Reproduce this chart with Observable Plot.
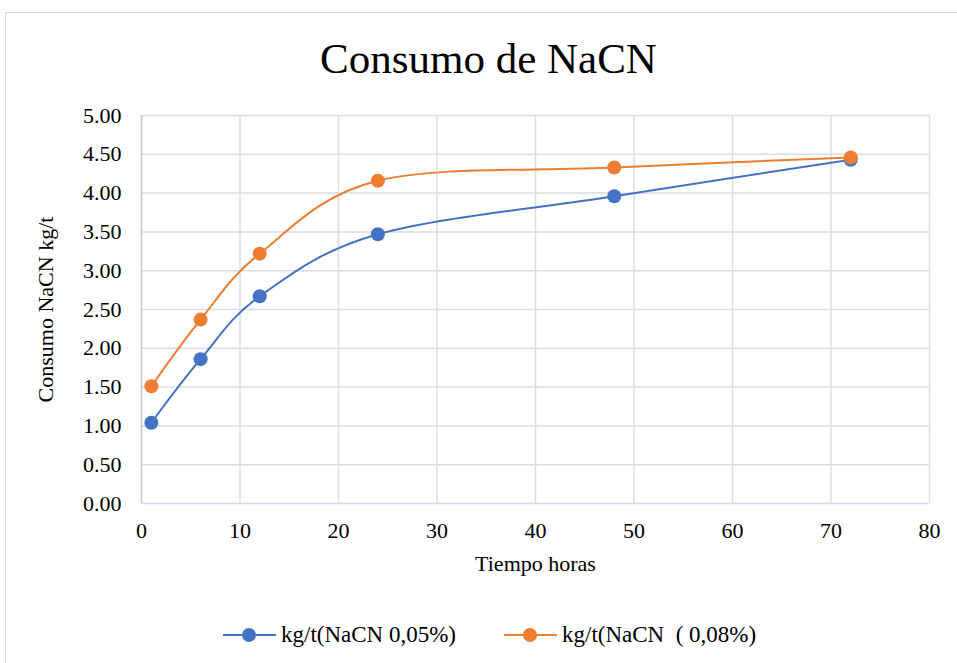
<!DOCTYPE html>
<html>
<head>
<meta charset="utf-8">
<script src="https://cdn.jsdelivr.net/npm/d3@7"></script>
<script src="https://cdn.jsdelivr.net/npm/@observablehq/plot@0.6"></script>
<style>
  html, body { margin: 0; padding: 0; background: #fff; }
  body { width: 957px; height: 663px; position: relative; overflow: hidden; font-family: "Liberation Serif", "Times New Roman", serif; }
  #frame { position: absolute; left: 5px; top: 12px; width: 980px; height: 700px; border: 1.5px solid #d9d9d9; box-sizing: border-box; }
  #title { position: absolute; left: 0; width: 977px; top: 37px; text-align: center; font-size: 43px; line-height: 1; color: #000; font-family: "Liberation Serif", serif !important; }
  #chart { position: absolute; left: 0; top: 0; }
  #chart svg, #chart svg text { font-family: "Liberation Serif", serif !important; }
  #legend { position: absolute; top: 621px; left: 0; width: 957px; height: 28px; font-size: 23px; color: #000; font-family: "Liberation Serif", serif !important; }
  .swatch { position: absolute; top: 4px; }
  .lbl { position: absolute; top: 2px; white-space: pre; line-height: 1; font-family: "Liberation Serif", serif !important; }
</style>
</head>
<body>
<div id="frame"></div>
<div id="chart"></div>
<div id="title">Consumo de NaCN</div>
<div id="legend"></div>
<script>
const hours = [1, 6, 12, 24, 48, 72];
const seriesNames = ["kg/t(NaCN 0,05%)", "kg/t(NaCN  ( 0,08%)"];
const blueValues = [1.04, 1.86, 2.67, 3.47, 3.96, 4.43];
const orangeValues = [1.51, 2.37, 3.22, 4.16, 4.33, 4.46];
const colors = ["#4472C4", "#ED7D31"];
const xTicks = [0, 10, 20, 30, 40, 50, 60, 70, 80];
const yTicks = [0, 0.5, 1, 1.5, 2, 2.5, 3, 3.5, 4, 4.5, 5];
const xLabel = "Tiempo horas";
const yLabel = "Consumo NaCN kg/t";

const data = [];
hours.forEach((h, i) => data.push({series: seriesNames[0], x: h, y: blueValues[i]}));
hours.forEach((h, i) => data.push({series: seriesNames[1], x: h, y: orangeValues[i]}));

const serif = "Liberation Serif, serif";
const plot = Plot.plot({
  width: 957,
  height: 663,
  marginLeft: 141,
  marginRight: 28,
  marginTop: 115,
  marginBottom: 160,
  style: "font-family: 'Liberation Serif', serif; font-size: 22px; color: #000; background: transparent;",
  x: {domain: [0, 80], ticks: xTicks, tickSize: 0, tickPadding: 19, label: null},
  y: {domain: [0, 5], ticks: yTicks, tickSize: 0, tickPadding: 20, tickFormat: d3.format(".2f"), label: null},
  color: {domain: seriesNames, range: colors},
  marks: [
    Plot.ruleX(xTicks.filter(d => d > 0), {stroke: "#d9dde6", strokeWidth: 1.5, strokeOpacity: 1}),
    Plot.ruleY(yTicks.filter(d => d > 0), {stroke: "#d9dde6", strokeWidth: 1.5, strokeOpacity: 1}),
    Plot.ruleX([0], {stroke: "#bfc7d6", strokeWidth: 1.5}),
    Plot.ruleY([0], {stroke: "#d3d8e2", strokeWidth: 1.5}),
    Plot.axisX({ticks: xTicks, tickSize: 0, tickPadding: 19, fontSize: 22, fontFamily: serif, label: null}),
    Plot.axisY({ticks: yTicks, tickSize: 0, tickPadding: 20, tickFormat: d3.format(".2f"), fontSize: 22, fontFamily: serif, label: null}),
    Plot.line(data, {x: "x", y: "y", z: "series", stroke: "series", strokeWidth: 2, curve: "catmull-rom", tension: 0}),
    Plot.dot(data, {x: "x", y: "y", fill: "series", r: 7, stroke: "none"}),
    Plot.text([xLabel], {frameAnchor: "bottom", dy: 67, fontSize: 22, fontFamily: serif, fill: "#000"}),
    Plot.text([yLabel], {frameAnchor: "left", dx: -96, rotate: -90, textAnchor: "middle", fontSize: 22, fontFamily: serif, fill: "#000"})
  ]
});
document.getElementById("chart").appendChild(plot);

const legend = document.getElementById("legend");
const swatchLefts = [223, 504];
const labelLefts = [281, 562];
seriesNames.forEach((name, i) => {
  const sw = document.createElement("div");
  sw.className = "swatch";
  sw.style.left = swatchLefts[i] + "px";
  sw.innerHTML = `<svg width="54" height="20"><line x1="0" y1="10" x2="53" y2="10" stroke="${colors[i]}" stroke-width="2"/><circle cx="26" cy="10" r="7" fill="${colors[i]}"/></svg>`;
  legend.appendChild(sw);
  const lb = document.createElement("div");
  lb.className = "lbl";
  lb.style.left = labelLefts[i] + "px";
  lb.textContent = name;
  legend.appendChild(lb);
});
</script>
</body>
</html>
